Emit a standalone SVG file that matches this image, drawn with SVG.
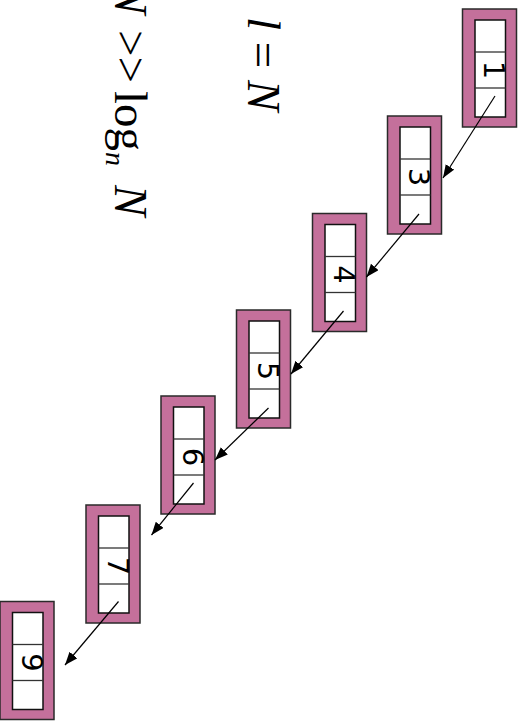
<svg xmlns="http://www.w3.org/2000/svg" width="527" height="726" viewBox="0 0 527 726">
  <style>
    .outer { fill: #c4709b; stroke: #2a2a2a; stroke-width: 1.5; }
    .inner { fill: #ffffff; stroke: #111111; stroke-width: 1.5; }
    .div { stroke: #333333; stroke-width: 1.3; }
    .num { font-family: "DejaVu Sans", "Liberation Sans", sans-serif; font-size: 29px; fill: #000000; text-anchor: middle; }
    .edge { stroke: #000000; stroke-width: 1.2; fill: none; marker-end: url(#head); }
    .math { font-family: "Liberation Serif", "Times New Roman", serif; font-size: 47px; fill: #000000; }
  </style>
  <defs>
    <marker id="head" markerUnits="userSpaceOnUse" markerWidth="14" markerHeight="12" refX="13" refY="5" orient="auto">
      <path d="M0,0 L13,5 L0,10 Z" fill="#000000"/>
    </marker>
    <!-- one list cell: pink frame, white body split into three slots -->
    <g id="cell">
      <rect class="outer" x="0" y="0" width="54" height="118"/>
      <rect class="inner" x="12.5" y="11" width="30.5" height="97"/>
      <line class="div" x1="12.5" y1="43" x2="43" y2="43"/>
      <line class="div" x1="12.5" y1="79" x2="43" y2="79"/>
    </g>
  </defs>

  <!-- formulas -->
  <g id="formula-l">
    <text class="math" transform="translate(248,17) rotate(90)"><tspan font-style="italic">l</tspan> = <tspan font-style="italic">N</tspan></text>
  </g>
  <g id="formula-log">
    <text class="math" transform="translate(115,0) rotate(90)"><tspan x="-17" font-style="italic">N</tspan><tspan x="30">&gt;&gt;</tspan><tspan x="91">log</tspan><tspan x="152" dy="9" font-size="28" font-style="italic">n</tspan><tspan x="185" dy="-9" font-style="italic">N</tspan></text>
  </g>

  <!-- nodes -->
  <g id="node-1" transform="translate(462.5,9)">
    <use href="#cell"/>
    <text class="num" transform="translate(21.5,61) rotate(90)">1</text>
  </g>
  <g id="node-3" transform="translate(387.5,116)">
    <use href="#cell"/>
    <text class="num" transform="translate(21,61) rotate(90)">3</text>
  </g>
  <g id="node-4" transform="translate(312.5,213.5)">
    <use href="#cell"/>
    <text class="num" transform="translate(21.5,61) rotate(90)">4</text>
  </g>
  <g id="node-5" transform="translate(236.5,310)">
    <use href="#cell"/>
    <text class="num" transform="translate(21.5,61) rotate(90)">5</text>
  </g>
  <g id="node-6" transform="translate(161,396)">
    <use href="#cell"/>
    <text class="num" transform="translate(21.5,61) rotate(90)">6</text>
  </g>
  <g id="node-7" transform="translate(86,505)">
    <use href="#cell"/>
    <text class="num" transform="translate(21.5,61) rotate(90)">7</text>
  </g>
  <g id="node-9" transform="translate(0,601.5)">
    <use href="#cell"/>
    <text class="num" transform="translate(21.5,61) rotate(90)">9</text>
  </g>

  <!-- links -->
  <g id="edges">
    <line class="edge" x1="495" y1="96" x2="443" y2="178"/>
    <line class="edge" x1="419" y1="214" x2="366.5" y2="277"/>
    <line class="edge" x1="343.5" y1="311" x2="291" y2="374"/>
    <line class="edge" x1="268.5" y1="408" x2="215" y2="460"/>
    <line class="edge" x1="193.5" y1="483" x2="151.5" y2="535"/>
    <line class="edge" x1="118.5" y1="601.5" x2="65" y2="665"/>
  </g>
</svg>
